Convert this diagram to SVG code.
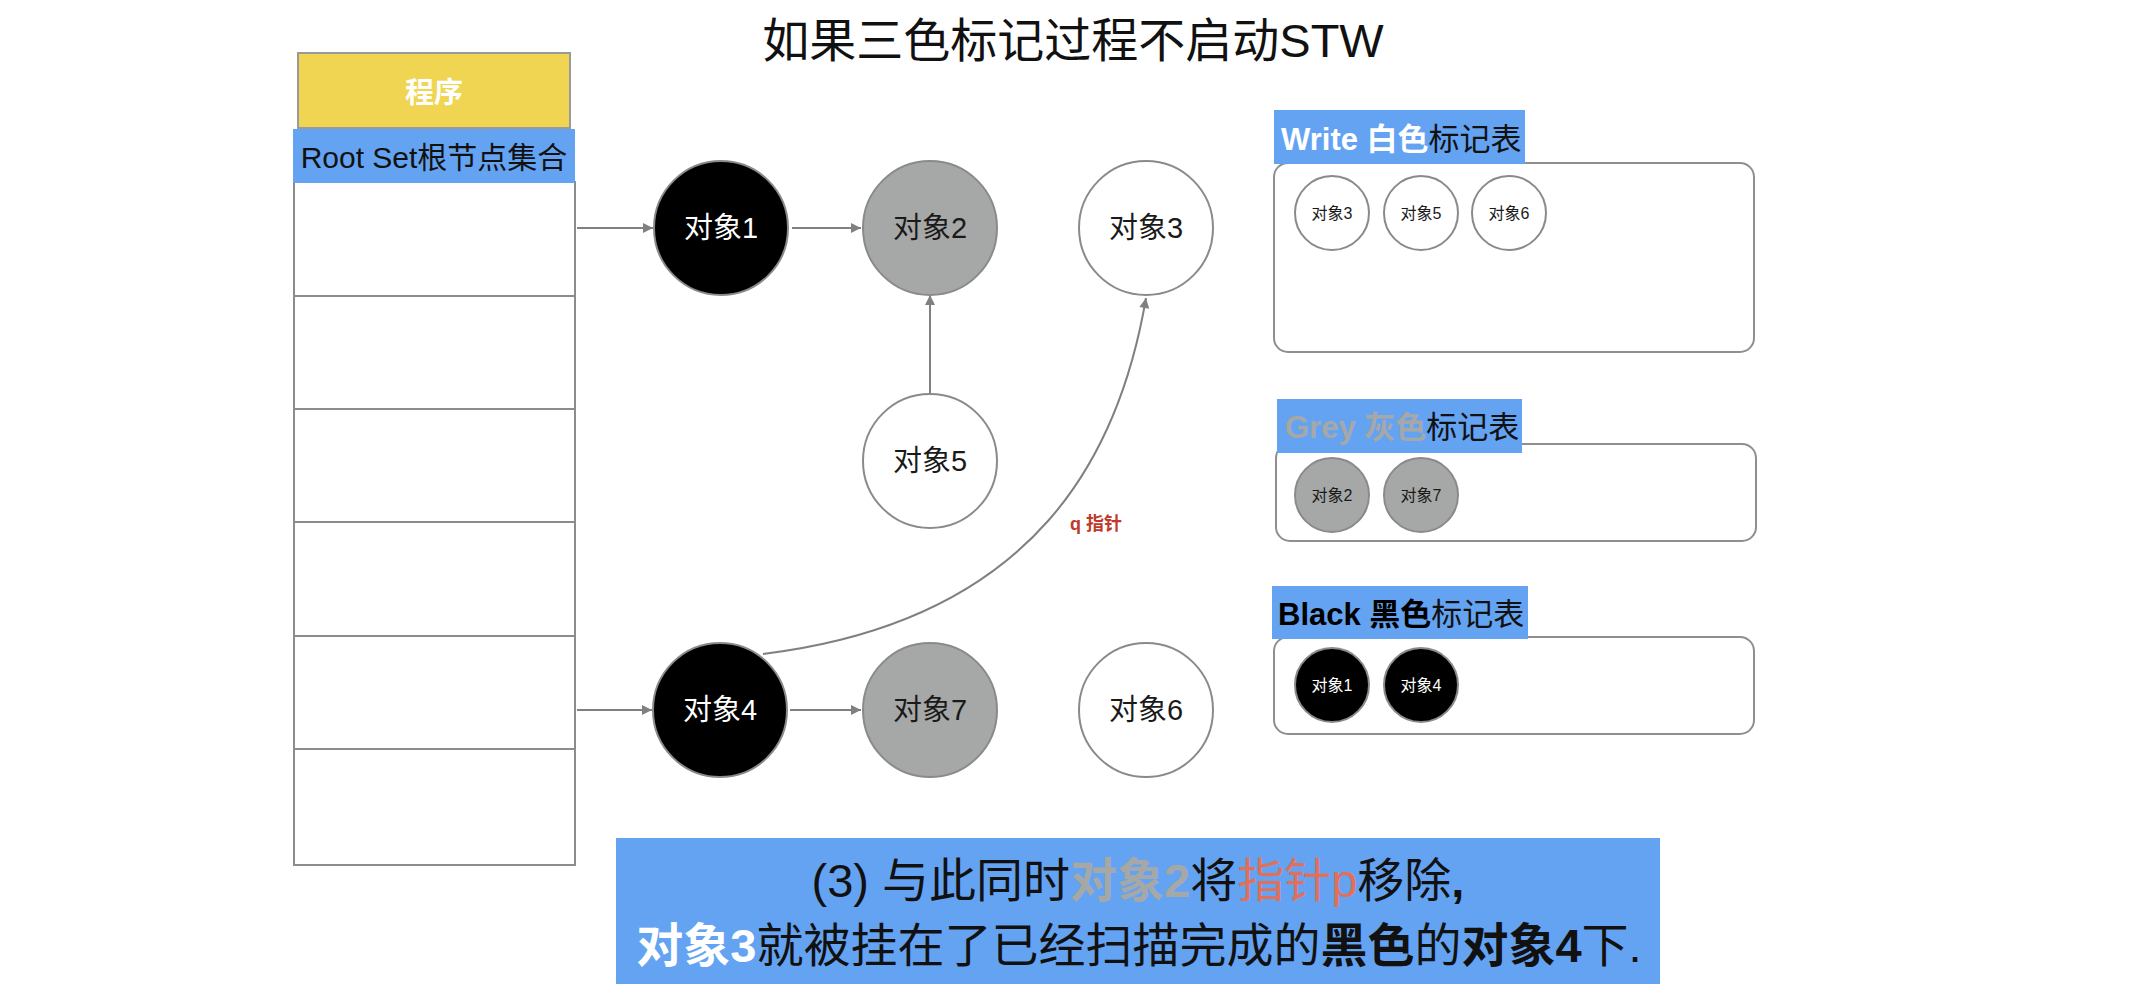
<svg xmlns="http://www.w3.org/2000/svg" width="2134" height="990" viewBox="0 0 2134 990">
<defs>
<style>
text{font-family:"Liberation Sans","Noto Sans CJK SC",sans-serif}
.c{stroke:#8a8a8a;stroke-width:2}
.blk{fill:#000}
.gry{fill:#a6a8a7}
.wht{fill:#fff}
.big{font-size:29px;text-anchor:middle}
.sm{font-size:16px;text-anchor:middle}
.tw{fill:#fff}
.td{fill:#1a1a1a}
.lbl{fill:#64a3f2}
.box{fill:#fff;stroke:#8f8f8f;stroke-width:2}
.edge{stroke:#808080;stroke-width:2;fill:none}
.b{font-weight:bold}
</style>
<marker id="ah" viewBox="0 0 10 10" refX="10" refY="5" markerWidth="11" markerHeight="10" markerUnits="userSpaceOnUse" orient="auto">
<path d="M0,0 L10,5 L0,10 z" fill="#808080"/>
</marker>
</defs>
<rect width="2134" height="990" fill="#fff"/>
<text x="1073" y="57" font-size="47" text-anchor="middle" fill="#111">如果三色标记过程不启动STW</text>

<g id="program">
<rect x="298" y="53" width="272" height="75" fill="#efd552" stroke="#9a9a9a" stroke-width="2"/>
<text x="434" y="103" font-size="29" font-weight="bold" fill="#fff" text-anchor="middle">程序</text>
</g>
<g id="rootset">
<rect x="294" y="182" width="281" height="683" fill="#fff" stroke="#8c8c8c" stroke-width="2"/>
<path d="M294 296H575M294 409H575M294 522H575M294 636H575M294 749H575" stroke="#8c8c8c" stroke-width="2"/>
<rect x="293" y="129" width="282" height="54" class="lbl"/>
<text x="434" y="168" font-size="30" text-anchor="middle" fill="#111">Root Set根节点集合</text>
</g>

<g id="connectors">
<line x1="577" y1="228" x2="653" y2="228" class="edge" marker-end="url(#ah)"/>
<line x1="792" y1="228" x2="861" y2="228" class="edge" marker-end="url(#ah)"/>
<line x1="930" y1="393" x2="930" y2="295" class="edge" marker-end="url(#ah)"/>
<line x1="577" y1="710" x2="652" y2="710" class="edge" marker-end="url(#ah)"/>
<line x1="790" y1="710" x2="861" y2="710" class="edge" marker-end="url(#ah)"/>
<path d="M763 654 C1040 620 1120 450 1146 298" class="edge" marker-end="url(#ah)"/>
<text x="1070" y="530" font-size="18" font-weight="bold" fill="#c0392b">q 指针</text>
</g>

<g id="obj1"><circle cx="721" cy="228" r="67" class="c blk"/><text x="721" y="238" class="big tw">对象1</text></g>
<g id="obj2"><circle cx="930" cy="228" r="67" class="c gry"/><text x="930" y="238" class="big td">对象2</text></g>
<g id="obj3"><circle cx="1146" cy="228" r="67" class="c wht"/><text x="1146" y="238" class="big td">对象3</text></g>
<g id="obj5"><circle cx="930" cy="461" r="67" class="c wht"/><text x="930" y="471" class="big td">对象5</text></g>
<g id="obj4"><circle cx="720" cy="710" r="67" class="c blk"/><text x="720" y="720" class="big tw">对象4</text></g>
<g id="obj7"><circle cx="930" cy="710" r="67" class="c gry"/><text x="930" y="720" class="big td">对象7</text></g>
<g id="obj6"><circle cx="1146" cy="710" r="67" class="c wht"/><text x="1146" y="720" class="big td">对象6</text></g>

<g id="white-table">
<rect x="1274" y="163" width="480" height="189" rx="14" class="box"/>
<rect x="1274" y="110" width="251" height="54" class="lbl"/>
<text x="1281" y="150" font-size="31"><tspan class="b" fill="#fff">Write 白色</tspan><tspan fill="#111">标记表</tspan></text>
<circle cx="1332" cy="213" r="37" class="c wht"/><text x="1332" y="219" class="sm td">对象3</text>
<circle cx="1421" cy="213" r="37" class="c wht"/><text x="1421" y="219" class="sm td">对象5</text>
<circle cx="1509" cy="213" r="37" class="c wht"/><text x="1509" y="219" class="sm td">对象6</text>
</g>

<g id="grey-table">
<rect x="1276" y="444" width="480" height="97" rx="14" class="box"/>
<rect x="1277" y="399" width="245" height="54" class="lbl"/>
<text x="1285" y="438" font-size="31"><tspan class="b" fill="#a6a8a7">Grey 灰色</tspan><tspan fill="#111">标记表</tspan></text>
<circle cx="1332" cy="495" r="37" class="c gry"/><text x="1332" y="501" class="sm td">对象2</text>
<circle cx="1421" cy="495" r="37" class="c gry"/><text x="1421" y="501" class="sm td">对象7</text>
</g>

<g id="black-table">
<rect x="1274" y="637" width="480" height="97" rx="14" class="box"/>
<rect x="1272" y="586" width="256" height="53" class="lbl"/>
<text x="1278" y="625" font-size="31"><tspan class="b" fill="#000">Black 黑色</tspan><tspan fill="#111">标记表</tspan></text>
<circle cx="1332" cy="685" r="37" class="c blk"/><text x="1332" y="691" class="sm tw">对象1</text>
<circle cx="1421" cy="685" r="37" class="c blk"/><text x="1421" y="691" class="sm tw">对象4</text>
</g>

<g id="caption">
<rect x="616" y="838" width="1044" height="146" class="lbl"/>
<text x="1138" y="897" font-size="47" text-anchor="middle" fill="#111">(3) 与此同时<tspan class="b" fill="#a6a8a7">对象2</tspan>将<tspan fill="#e0705a">指针p</tspan>移除<tspan class="b">,</tspan></text>
<text x="1139" y="962" font-size="47" text-anchor="middle" fill="#111"><tspan class="b" fill="#fff">对象3</tspan>就被挂在了已经扫描完成的<tspan class="b">黑色</tspan>的<tspan class="b">对象4</tspan>下.</text>
</g>
</svg>
